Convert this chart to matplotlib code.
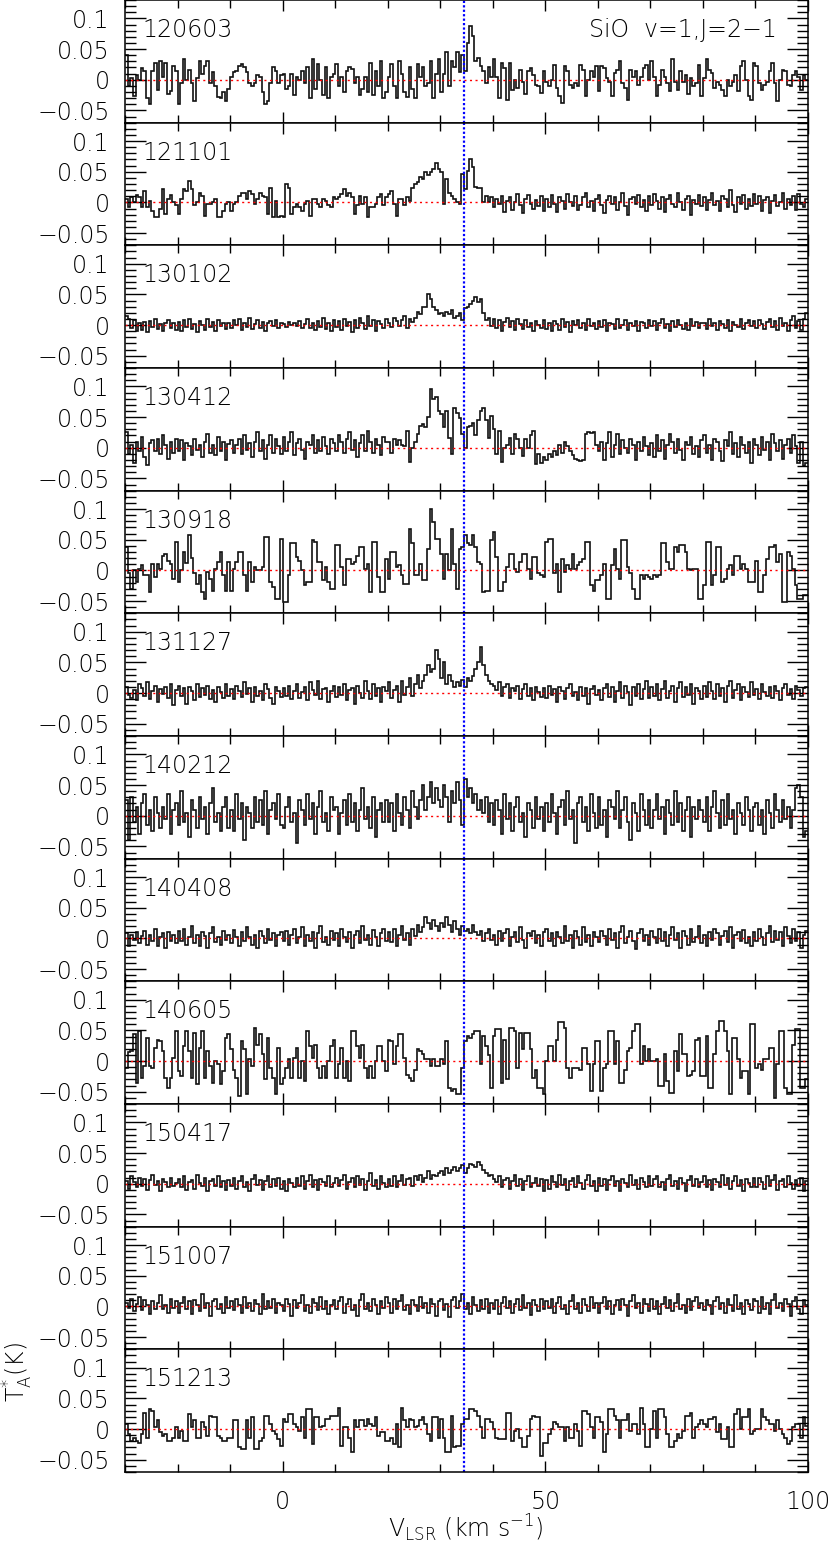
import numpy as np
import matplotlib.pyplot as plt
from matplotlib.ticker import MultipleLocator

plt.rcParams['font.family'] = ['DejaVu Sans']
plt.rcParams['font.weight'] = 'light'
plt.rcParams['mathtext.fontset'] = 'custom'
plt.rcParams['mathtext.rm'] = 'DejaVu Sans:light'
plt.rcParams['mathtext.it'] = 'DejaVu Sans:light'
plt.rcParams['mathtext.default'] = 'rm'

# spectra: 0.5 km/s channels starting at -30 km/s, antenna temperature in mK
V0 = -30.0
DV = 0.5
V_SYS = 34.6

dates = ['120603', '121101', '130102', '130412', '130918', '131127',
         '140212', '140408', '140605', '150417', '151007', '151213']

s120603 = [
    40, -10, 3, -27, 8, 0, 19, 14, -30, -40, 14, 27, -16, 30, 5, 27, -24, -19, 22, 14,
    -40, -5, 33, 0, 16, -5, -35, 3, 30, 10, 22, 30, -5, 12, -10, -28, -30, -20, -35, -15,
    5, 12, 15, 22, 25, 20, 12, -5, -10, -5, 8, 5, -20, -40, -35, -5, 20, 15, -5, 8,
    10, -15, -10, 10, -25, 5, 0, 15, -5, 20, -30, 33, -15, 25, 0, -25, 20, -30, 5, 10,
    25, -10, 5, -20, 15, 20, 18, -5, 5, -25, -15, 5, -20, 28, -25, 15, -10, 30, -30, -20,
    5, 25, -10, -30, 30, 10, -20, -28, 20, -15, -30, 25, 5, 20, -10, -5, 30, -30, 10, 33,
    -20, 10, 45, -10, 30, 20, 45, 12, 40, 15, 60, 88, 72, 30, 35, 22, 14, -5, 20, 5,
    33, 5, -30, 27, 19, -33, 27, -16, 0, -14, 16, -3, -24, 14, 19, 8, -8, -11, -22, 14,
    -3, -11, 0, 24, -14, -27, -38, 22, 14, -8, -14, -5, -11, 24, 16, -27, 0, 14, 5, 22,
    -19, 22, 19, 3, -3, -27, 11, 16, 30, -5, -14, -33, 16, 5, 14, -8, 5, 19, 24, 0,
    30, 5, -27, -8, 16, 5, -5, -19, 33, -3, -16, 14, -3, 8, -24, 3, -11, -5, 24, -27,
    3, 33, 16, 11, -14, -3, -8, -16, -27, 0, -11, -3, 8, -19, 22, 30, 0, -27, -33, 27,
    22, -5, -16, -8, -3, 14, 27, -5, -35, 0, 16, 14, -8, -11, 8, 14, 5, -16, 8, 0]

s121101 = [
    5, -8, 8, 0, 12, 8, -8, 19, -8, 3, -14, -24, -24, -10, 22, -19, 5, 12, 0, -5,
    -19, 5, 22, 18, 35, 22, -5, 0, 16, 11, -22, -3, -3, 0, 5, -24, -24, -14, -3, 0,
    -14, -3, 0, 11, 16, 15, 5, 19, 14, -3, 5, 16, 11, 8, -19, 24, -24, 3, -24, -22,
    -24, 30, 24, -19, -8, -3, -8, -14, -3, 3, -22, 5, 5, -2, -8, 5, 3, -5, -8, 8,
    5, 8, 14, 22, 11, 15, 8, -19, -5, 11, -3, 8, -24, -8, -8, -3, 8, 14, -5, 8,
    14, 19, -3, -22, 5, 5, -5, 8, 2, 24, 30, 33, 41, 38, 49, 45, 49, 55, 65, 54,
    50, -3, 38, 16, 11, 5, 0, -2, 46, 22, 52, 71, 57, 25, 23, 23, 0, 11, 0, 8,
    -8, 5, -3, 10, -15, 3, 8, -12, 0, 14, -5, -18, 6, 12, -3, -10, 4, -6, 10, -14,
    5, -8, 12, -3, -16, 8, 3, -10, 14, 0, -6, 10, -12, -4, 8, 16, -8, 2, -14, 6,
    12, -5, -18, 4, 10, -3, 8, -12, 0, 15, -6, -20, 5, 9, -2, 12, -8, 4, -14, 10,
    -4, 14, 2, -10, 8, -16, 5, 12, -3, -8, 16, 0, -12, 6, 10, -20, 4, -3, 12, -6,
    8, -12, 4, 16, -5, 2, -14, 10, 6, -8, 20, -4, -16, 8, -2, 12, -10, 5, -6, 14,
    -3, 10, -14, 4, 8, -18, 2, 12, -6, 0, 16, -10, 5, -4, 10, -12, 14, -2, -8, 6]

s130102 = [
    15, 10, -5, 8, -10, 3, -8, 5, -12, 6, -3, 10, -6, 2, -10, 4, 8, -5, 3, -8,
    5, -10, 8, -3, 10, -6, 2, -12, 6, 0, -8, 10, -3, 5, -10, 8, -2, 4, -6, 3,
    -5, 8, 0, 10, -8, 4, -3, 12, -6, 2, 8, -4, 5, -10, 3, 6, -2, 8, -5, 3,
    2, -3, 5, 0, 3, -2, 6, -4, 2, 10, -5, 4, -8, 6, -3, 12, -6, 3, -10, 8,
    -3, 6, -8, 10, -2, 5, -12, 8, -4, 12, 3, -6, 14, -2, 8, -10, 6, 2, -5, 10,
    4, -3, 12, 6, -2, 8, 15, -4, 10, 5, 12, 22, 18, 30, 30, 50, 42, 30, 25, 18,
    20, 15, 22, 18, 25, 12, 15, 20, 8, 28, 30, 35, 40, 45, 38, 42, 20, 8, 12, -2,
    10, -5, 8, -10, 5, 12, -3, 6, -8, 10, 2, -6, 8, -3, 4, -10, 6, 0, -4, 8,
    -6, 4, -10, 6, 2, -8, 10, -3, 5, -12, 6, 0, 8, -5, 3, -8, 10, -2, 4, -6,
    6, -3, 8, -10, 4, 2, -6, 10, -4, 0, 8, -8, 3, -2, 6, -10, 5, 3, -4, 8,
    -2, 6, -8, 4, 10, -5, 2, -10, 6, -3, 8, 0, -6, 4, -8, 10, -2, 5, -5, 3,
    4, -6, 10, -2, 3, -8, 6, 2, -4, 8, -10, 5, 0, -3, 10, -6, 4, 8, -2, 6,
    -4, 8, 2, -6, 5, 10, -3, 6, -8, 12, -2, 4, -10, 8, 14, -5, 6, -8, 10, 20]

s130412 = [
    25, -10, 5, -25, 10, -5, 18, -15, -28, 8, 12, -5, 15, -10, 20, 5, -18, 10, -8, 15,
    -5, 12, -20, 8, 3, -12, 15, -3, 5, -15, 10, 22, -8, 5, -12, 18, -5, 10, -20, 6,
    12, -8, 5, 15, -10, 20, -3, 8, -15, 10, 25, -5, 12, -18, 5, 20, -8, 15, 3, -10,
    18, -5, 10, 25, -12, 8, 15, -3, -18, 10, 5, 20, -8, 12, -5, 18, 3, -10, 15, 8,
    -5, 20, 10, -8, 15, 25, -3, 12, -15, 8, 20, -5, 28, 10, -8, 15, 5, -12, 18, 10,
    10, -8, 15, 5, 12, 4, 3, 28, -24, 0, 10, 22, 35, 38, 33, 50, 95, 79, 82, 60,
    55, 33, 60, 16, -11, 65, 57, 49, 22, 0, 33, 35, 41, 20, 46, 60, 65, 46, 16, 52,
    30, -11, 27, -24, 0, 5, 16, -11, 22, 14, 0, -14, 14, 0, 20, 27, -27, -10, -25, -15,
    -20, -10, -15, -5, -12, 5, -8, 10, 3, -6, -12, -18, -20, -22, -20, 22, 25, 24, 25, 5,
    -5, 10, -20, 8, 25, -15, 5, 22, -10, 12, 0, -8, 15, 5, -20, 10, -6, 18, 3, -12,
    8, -15, 20, -5, 12, -18, 5, 22, 10, -8, 15, -3, -20, 10, 5, 18, -10, 3, -15, 12,
    20, -8, 5, -20, 15, 10, -5, -22, 12, 3, 25, -10, 8, -15, 18, 5, -8, 10, -25, 15,
    5, -12, 18, -3, 10, -20, 22, 8, -5, 12, -18, 5, 15, -8, 20, 3, -25, 10, -30, -25]

s130918 = [
    38, -5, -30, 0, -19, 3, 8, -8, -8, -35, 11, -10, 11, 3, 24, 27, 16, 10, -14, 46,
    -19, 0, 30, 12, 57, 20, -5, -22, -8, -35, -46, -3, -14, -33, 3, 14, 30, -8, -33, 14,
    -33, 3, 14, 30, 30, -8, -33, 14, -19, 5, 0, 0, 5, 54, 54, -19, -27, -46, -46, 52,
    -52, -52, -8, 44, 44, 22, 16, 0, -24, -19, -19, 49, 46, 14, 14, -16, 5, -19, -30, -30,
    41, 41, 5, -24, 19, 19, 11, 14, 24, 38, 38, 3, 11, -35, 46, 46, -11, -35, -35, 19,
    -14, 30, 30, 5, 8, -8, -22, -22, 68, 44, -8, -8, 11, -16, -16, 35, 100, 79, 52, 52,
    27, -14, 27, 0, 68, 11, -30, 35, 38, 57, 45, 41, 57, 38, 14, 10, -35, -33, -33, 50,
    63, 22, -33, -33, -19, 5, 27, 27, 3, -3, 14, 27, 27, 3, -14, 22, 22, -5, -8, -11,
    46, 52, 52, -5, 11, -35, 19, -3, 8, 3, 27, 3, 8, 14, 19, 46, 46, -24, -33, -16,
    -16, -8, 11, -46, -46, 8, 35, 3, -14, 49, 49, 5, -5, -30, -46, -46, -8, -14, -8, -11,
    -14, -8, -11, -8, 44, 44, 14, 3, 3, 38, 30, 41, 41, 30, 3, 0, 3, 3, -46, -46,
    -24, 46, 46, -24, -8, 38, 38, -19, -14, 3, 8, -8, 24, 24, 3, 11, 3, -19, -19, -19,
    16, -35, -35, -8, 19, 38, 38, 41, 14, 27, -52, -52, 30, 24, 3, -24, -46, -46, -40, -40]

s131127 = [
    10, -3, -8, 5, -12, 15, 8, -5, 18, -10, 3, 12, -15, 6, -2, 10, -8, 15, -20, 5,
    12, -5, 8, -18, 10, 3, -12, 15, -6, 8, -3, 12, -10, 5, -15, 10, 2, -8, 14, -4,
    6, -10, 12, 3, -6, 18, -2, 8, -15, 10, -5, 4, -12, 15, 6, -8, -18, 10, 3, -6,
    8, -5, 12, -10, 4, 15, -8, 2, 10, -12, 18, 5, -3, 20, -10, 6, 8, -15, 3, 12,
    -6, 10, -3, 15, -12, 5, 8, -18, 12, 0, -8, 20, 4, -10, 15, -5, 8, -14, 10, 3,
    18, -8, 5, 12, -15, 20, -3, 10, 25, -5, 15, 30, 8, 20, 30, 45, 35, 40, 70, 55,
    25, 50, 15, 30, 20, 10, 18, 12, 22, 10, 25, 20, 28, 40, 50, 75, 45, 30, 20, 15,
    12, 5, 18, -5, 10, 15, -8, 8, 3, 12, -10, 6, 15, -4, 8, -12, 10, 2, -6, 8,
    -8, 12, -3, 6, -15, 10, 4, -10, 8, 15, -5, 2, -12, 10, -4, 8, -18, 6, 12, -3,
    5, -12, 8, 15, -6, 10, -15, 4, 18, -8, 12, 2, -20, 10, -5, 15, -10, 6, 20, -8,
    10, -5, 15, -12, 6, 20, -8, 4, 12, -15, 8, 18, -6, 10, -3, 14, -18, 8, 4, -10,
    12, -6, 18, 3, -10, 15, -4, 8, -15, 12, 20, -8, 5, 15, -12, 10, 2, -6, 18, -3,
    6, -10, 14, 2, -5, 10, -8, 12, 4, -12, 8, 15, -3, 6, -10, 12, 5, -4, 8, 10]

s140212 = [
    25, -40, 30, -10, 15, -30, 20, 35, -15, 10, -25, 30, 5, -20, 15, -5, 35, -30, 10, 20,
    -15, 40, -10, 5, -35, 25, 10, -20, 30, -5, 15, -30, 20, 45, -10, 5, -25, 15, 30, -20,
    10, -25, 35, -5, 20, -40, 15, 5, -20, 30, -10, 25, -15, 40, -30, 10, 20, -5, 35, -15,
    -20, 15, 30, -10, 5, -45, 25, 10, -15, 35, -5, 20, -30, 15, 40, -10, 5, -25, 30, 10,
    15, -30, 5, 25, -15, 35, -10, 20, -25, 10, 45, -5, 15, -20, 30, -35, 10, 20, -10, 25,
    -10, 20, -25, 35, 5, -15, 30, 10, -20, 40, 15, -5, 25, 50, 10, 30, 55, 20, 45, 25,
    15, 50, 30, -10, 40, 20, 55, 25, -15, 60, 30, 45, 20, 35, 10, 25, 5, 30, -10, 20,
    -15, 25, 10, -30, 35, -5, 20, -25, 15, 30, -10, 5, -35, 20, 10, -20, 30, -5, 15, -25,
    20, -10, 35, 5, -30, 15, 25, -15, 40, -5, 10, -45, 20, 30, -10, 15, -25, 35, 5, -20,
    30, -15, 10, -35, 25, 15, -5, 40, -20, 10, 30, -10, -40, 20, 5, -25, 35, 10, -15, 25,
    -20, 10, 35, -5, 15, -30, 25, 5, -15, 40, -10, 20, -25, 10, 30, -35, 15, -5, 25, 10,
    -10, 30, -25, 15, 40, 5, -20, 25, -15, 35, -5, 10, -30, 20, 5, -15, 30, 10, -25, 15,
    20, -15, 10, -30, 25, 5, -20, 35, 10, -10, 25, -5, 15, -20, 10, 45, 50, 30, -35, -25]

s140408 = [
    8, -12, 5, -3, 10, -8, 4, 12, -10, 6, -5, 15, -12, 3, 8, -15, 10, -4, 6, -8,
    12, -5, 15, -10, 3, 20, -8, 5, -12, 10, 4, -15, 8, 18, -6, 2, -10, 12, -3, 6,
    -8, 14, 3, -12, 10, -5, 18, 2, -10, 6, -15, 12, 4, -8, 15, -3, 8, -12, 5, 10,
    -5, 12, -10, 6, 15, -8, 3, 18, -12, 5, -4, 10, -15, 8, 20, -6, 3, -10, 12, -2,
    8, -12, 15, 3, -6, 10, -15, 5, 12, -8, 20, -3, 6, -10, 14, 2, -12, 8, 15, -5,
    10, -6, 15, -12, 5, 20, -3, 8, -10, 15, 4, 22, 10, 18, 35, 25, 15, 30, 20, 12,
    25, 18, 35, 22, 10, 28, 15, 5, 20, 12, 15, 8, 22, 10, 5, 12, -5, 8, 15, -3,
    5, -10, 12, -4, 8, 15, -12, 3, 10, -6, 18, -3, -15, 8, 4, 12, -8, 6, -12, 10,
    15, -5, 8, -12, 10, 3, -8, 20, -4, 6, -15, 12, 2, -10, 18, -6, 5, -12, 10, 3,
    -6, 12, 4, -10, 15, -3, 8, -15, 10, 20, -8, 3, 12, -5, -18, 8, 15, -4, 6, -10,
    12, 3, -8, 15, -5, 10, -12, 6, 18, -3, 8, -15, 12, 4, -10, 15, -6, 2, 20, -8,
    5, -12, 10, -3, 15, 8, -10, 4, 12, -6, 18, -15, 6, 10, -4, 14, -8, 3, -12, 10,
    -5, 15, 3, -10, 8, 20, -6, 12, -3, 10, -12, 18, 4, -8, 15, -5, 10, -15, 6, 12]

s140605 = [
    -11, 14, 16, 44, -35, 49, -27, -8, 38, -8, -11, 22, 35, 33, 16, -27, -44, -27, 5, 49,
    -16, -24, 24, 49, 16, -27, 46, -38, 22, 49, -27, 16, -8, -35, 0, -5, -38, -16, 38, 44,
    19, -14, -27, -57, 33, 19, -54, 3, -8, 54, 27, 44, 11, -30, 38, -11, -27, -54, 22, -38,
    -27, -11, 3, -27, 5, 22, -27, 0, -33, 49, 25, 5, 27, -11, -27, -8, -27, 0, 25, 35,
    -27, -5, 22, -27, 0, -33, 49, 49, 24, 5, 27, -11, -27, -8, -27, 0, 24, 24, 0, -16,
    35, 33, -5, 24, 44, 44, 5, -22, -27, -33, -14, 19, 16, 11, 3, 3, -8, 3, -8, -8,
    3, -5, 33, -44, -49, -46, -54, -54, -11, 33, 41, 38, 44, 49, 49, -5, 41, 24, 10, -44,
    41, 52, 52, -35, 35, -30, 54, 54, 49, -11, 46, 19, 46, 46, 19, -27, -14, -44, -44, -54,
    0, 24, 24, 0, 35, 63, 63, 54, -11, -27, -11, -11, -11, -14, 22, 22, -5, -49, -5, 33,
    33, -49, -11, -5, 49, 49, -5, 33, -35, -35, -14, 16, 22, 49, 60, 60, -5, 24, 0, 19,
    0, 0, 3, -41, -41, 11, -33, -52, -52, 16, -16, 44, 11, 11, -24, -22, -16, 35, 38, -24,
    -24, 41, -44, -44, 11, 49, 65, 65, 49, 16, -54, 38, 38, 3, -27, -16, -16, -54, 60, 60,
    -11, -5, -14, 3, 3, 22, 22, -60, -5, 49, 49, -44, -54, -54, 27, 52, 52, -44, -44, -30]

s150417 = [
    5, -8, 12, 3, -5, 10, -3, 8, -10, 6, 15, -2, 4, -12, 8, 3, -6, 10, -4, 2,
    8, -5, 12, -10, 3, 6, -8, 15, 2, -4, 10, -12, 5, 8, -3, 12, -6, 4, -10, 6,
    -3, 10, -8, 5, 12, -6, 3, -12, 8, 15, -2, 6, -10, 4, 12, -5, 8, -3, 10, -8,
    5, -12, 8, 2, -6, 10, -3, 12, -8, 4, 15, -5, 6, -10, 8, 3, -4, 12, -6, 2,
    10, -4, 6, 15, -8, 3, 10, -5, 12, -2, 8, -10, 5, 18, -3, 6, -8, 12, 2, -5,
    8, -3, 12, -6, 5, 15, -2, 8, 10, -4, 12, 6, 15, 3, 10, 20, 8, 15, 12, 18,
    20, 15, 25, 18, 22, 28, 20, 25, 30, 18, 25, 32, 30, 28, 35, 30, 22, 18, 12, 15,
    8, 3, 12, -5, 6, 10, -8, 4, 15, -3, 8, -10, 5, 12, -6, 2, 10, -4, 8, -12,
    6, -8, 12, 3, -5, 15, -2, 8, -10, 4, 10, -6, 12, 2, -8, 6, 15, -3, 5, -12,
    10, -4, 8, -10, 6, 12, -3, 5, -12, 8, 2, -6, 15, -2, 6, -8, 10, 3, -5, 12,
    -4, 8, 12, -6, 3, -10, 8, 15, -3, 5, -8, 10, 2, -12, 6, 12, -4, 8, -6, 3,
    12, -5, 6, -10, 8, 3, -6, 15, -2, 10, -8, 4, 12, -3, 6, -12, 8, 2, -5, 10,
    -6, 10, 3, -8, 12, -3, 6, 15, -10, 4, 8, -5, 12, 2, -8, 6, -3, 10, -12, 5]

s151007 = [
    5, -3, 12, -8, 4, 15, -6, 10, 2, -12, 8, -4, 6, 18, -5, 3, -10, 12, -2, 8,
    -10, 6, 15, -4, 8, -12, 10, 3, -8, 20, -2, 6, -15, 8, 12, -5, 4, -10, 15, -3,
    8, -6, 12, 2, -10, 15, -3, 6, -8, 10, 4, -12, 20, -5, 8, -2, 12, -10, 6, 3,
    -8, 12, 4, -15, 10, -3, 6, 18, -8, 2, -10, 12, 5, -6, 15, -4, 8, -12, 3, 10,
    -5, 8, 15, -10, 4, 12, -6, 3, -15, 10, 20, -4, 6, -8, 12, 2, -12, 8, -3, 15,
    6, -10, 12, -4, 8, 18, -6, 3, -12, 10, 2, -8, 15, -3, 6, -10, 12, 4, -15, 8,
    12, -6, 4, -18, 10, 15, -3, 8, 20, -5, 6, -12, 15, 2, -8, 10, -4, 12, -10, 6,
    -4, 10, -12, 6, 15, -3, 8, -10, 4, 12, -6, 18, -2, 6, -14, 10, 3, -8, 12, -5,
    8, -3, 12, -10, 6, 15, -5, 2, -12, 8, 18, -4, 6, -10, 12, 3, -8, 15, -2, 6,
    -10, 6, 15, -4, 8, -12, 3, 10, -6, 12, 2, -15, 8, 18, -3, 6, -10, 12, 4, -8,
    12, -5, 8, -12, 4, 15, -3, 10, -8, 6, 20, -4, 2, -10, 12, -6, 8, 15, -3, 6,
    -6, 10, 3, -12, 8, 15, -5, 6, -10, 12, 2, -8, 18, -4, 6, -12, 10, 4, -6, 12,
    8, -10, 15, -4, 6, -12, 10, 20, -3, 6, -8, 12, 4, -15, 8, 15, -5, -12, 10, 3]

s151213 = [
    8, -8, -19, -14, -19, -22, -8, 27, -14, 33, 30, 3, 14, -5, -11, -8, -19, -19, -14, 3,
    -14, -3, -19, -19, 24, 3, 14, -14, -14, 11, 3, -11, 22, 19, 19, -11, -14, -19, -19, -14,
    -14, 14, 14, -30, -33, -33, 14, -14, 19, -33, -33, -19, -14, 22, 22, 8, -3, -8, -16, -27,
    16, 11, 24, 24, 8, 3, -3, 19, -14, 33, 33, -24, 19, 19, 3, 5, 16, 16, 22, 22,
    22, 35, -27, 3, 3, -14, -38, 14, 3, 14, 14, 5, 16, 8, 5, 19, -11, -5, -5, -19,
    -19, -14, -24, 8, -30, 35, 14, 3, 16, 14, 3, 5, 14, 19, 8, -8, -19, 19, 19, -14,
    16, -14, -38, -38, 22, -30, -27, -27, 8, 16, 16, 33, 33, 30, 22, 3, -14, 16, 16, 11,
    0, -14, -16, -16, -16, 27, 27, -19, -3, 0, -14, -30, -30, -11, 16, 22, 19, 19, -44, -22,
    -22, -8, 0, 11, 8, 3, 3, -19, 3, -14, -14, 8, -3, -27, 30, 30, 24, 3, -14, 19,
    19, 11, -38, -8, 33, 33, 22, 14, -14, 14, 14, 24, -3, 8, 8, -8, 35, 8, -30, -30,
    0, 30, -14, 33, 33, 19, -8, -30, -30, -19, -8, -14, -3, 22, 22, 27, -14, 3, 8, 14,
    8, 3, 16, 16, 19, -5, 8, -16, -16, 3, -30, -30, 24, 33, 0, 19, 19, 33, -8, -3,
    0, 0, 33, 19, 14, 8, 8, -3, 14, 0, -8, -14, -24, -19, 3, 8, 8, -14, 19, 5]

spectra = [s120603, s121101, s130102, s130412, s130918, s131127,
           s140212, s140408, s140605, s150417, s151007, s151213]

yticks = [-0.05, 0, 0.05, 0.1]
ylabels = ['\u22120.05', '0', '0.05', '0.1']
xticks = [0, 50, 100]
xlabels = ['0', '50', '100']

W, H = 830, 1541
left, right = 125, 808
bottom = 1472
ph = bottom / len(dates)
FS = 17

fig = plt.figure(figsize=(W / 100, H / 100), dpi=100)

for i, (name, vals) in enumerate(zip(dates, spectra)):
    y = np.array(vals) / 1000.0
    edges = V0 + DV * np.arange(len(y) + 1)
    ax = fig.add_axes([left / W, 1 - (i + 1) * ph / H, (right - left) / W, ph / H])
    ax.stairs(y, edges, baseline=None, color='#111111', lw=1.2)
    ax.axhline(0, color='red', ls=(0, (1.5, 2.5)), lw=1.0)
    ax.axvline(V_SYS, color='blue', ls=(0, (1, 1)), lw=1.6)
    ax.set_xlim(-30, 100)
    ax.set_ylim(-0.07, 0.13)

    ax.set_xticks(xticks, xlabels)
    ax.xaxis.set_minor_locator(MultipleLocator(10))
    ax.set_yticks(yticks, ylabels)
    ax.yaxis.set_minor_locator(MultipleLocator(0.01))
    ax.tick_params(axis='x', which='major', direction='in', length=8, width=1,
                   top=True, bottom=True, labelsize=FS, pad=13,
                   labelbottom=(i == len(dates) - 1))
    ax.tick_params(axis='x', which='minor', direction='in', length=6, width=1,
                   top=True, bottom=True)
    ax.tick_params(axis='y', which='major', direction='in', length=15, width=1,
                   left=True, right=True, labelsize=FS, pad=11)
    ax.tick_params(axis='y', which='minor', direction='in', length=8, width=1,
                   left=True, right=True)
    for sp in ax.spines.values():
        sp.set_linewidth(1.1)

    ax.text(17 / (right - left), 1 - 30 / ph, name, transform=ax.transAxes,
            ha='left', va='center', fontsize=FS)
    if i == 0:
        ax.text(1 - 31 / (right - left), 1 - 30 / ph, 'SiO  v=1,J=2\u22121',
                transform=ax.transAxes, ha='right', va='center', fontsize=FS)

fig.text(466 / W, 1 - 1537 / H, r'V$_{\rm LSR}$ (km s$^{-1}$)', ha='center',
         va='baseline', fontsize=FS)
fig.text(18 / W, 1 - 1372 / H, r'T$_{\rm A}^{*}$(K)', rotation=90, ha='center',
         va='center', fontsize=FS)

fig.savefig('out.png', dpi=100)
